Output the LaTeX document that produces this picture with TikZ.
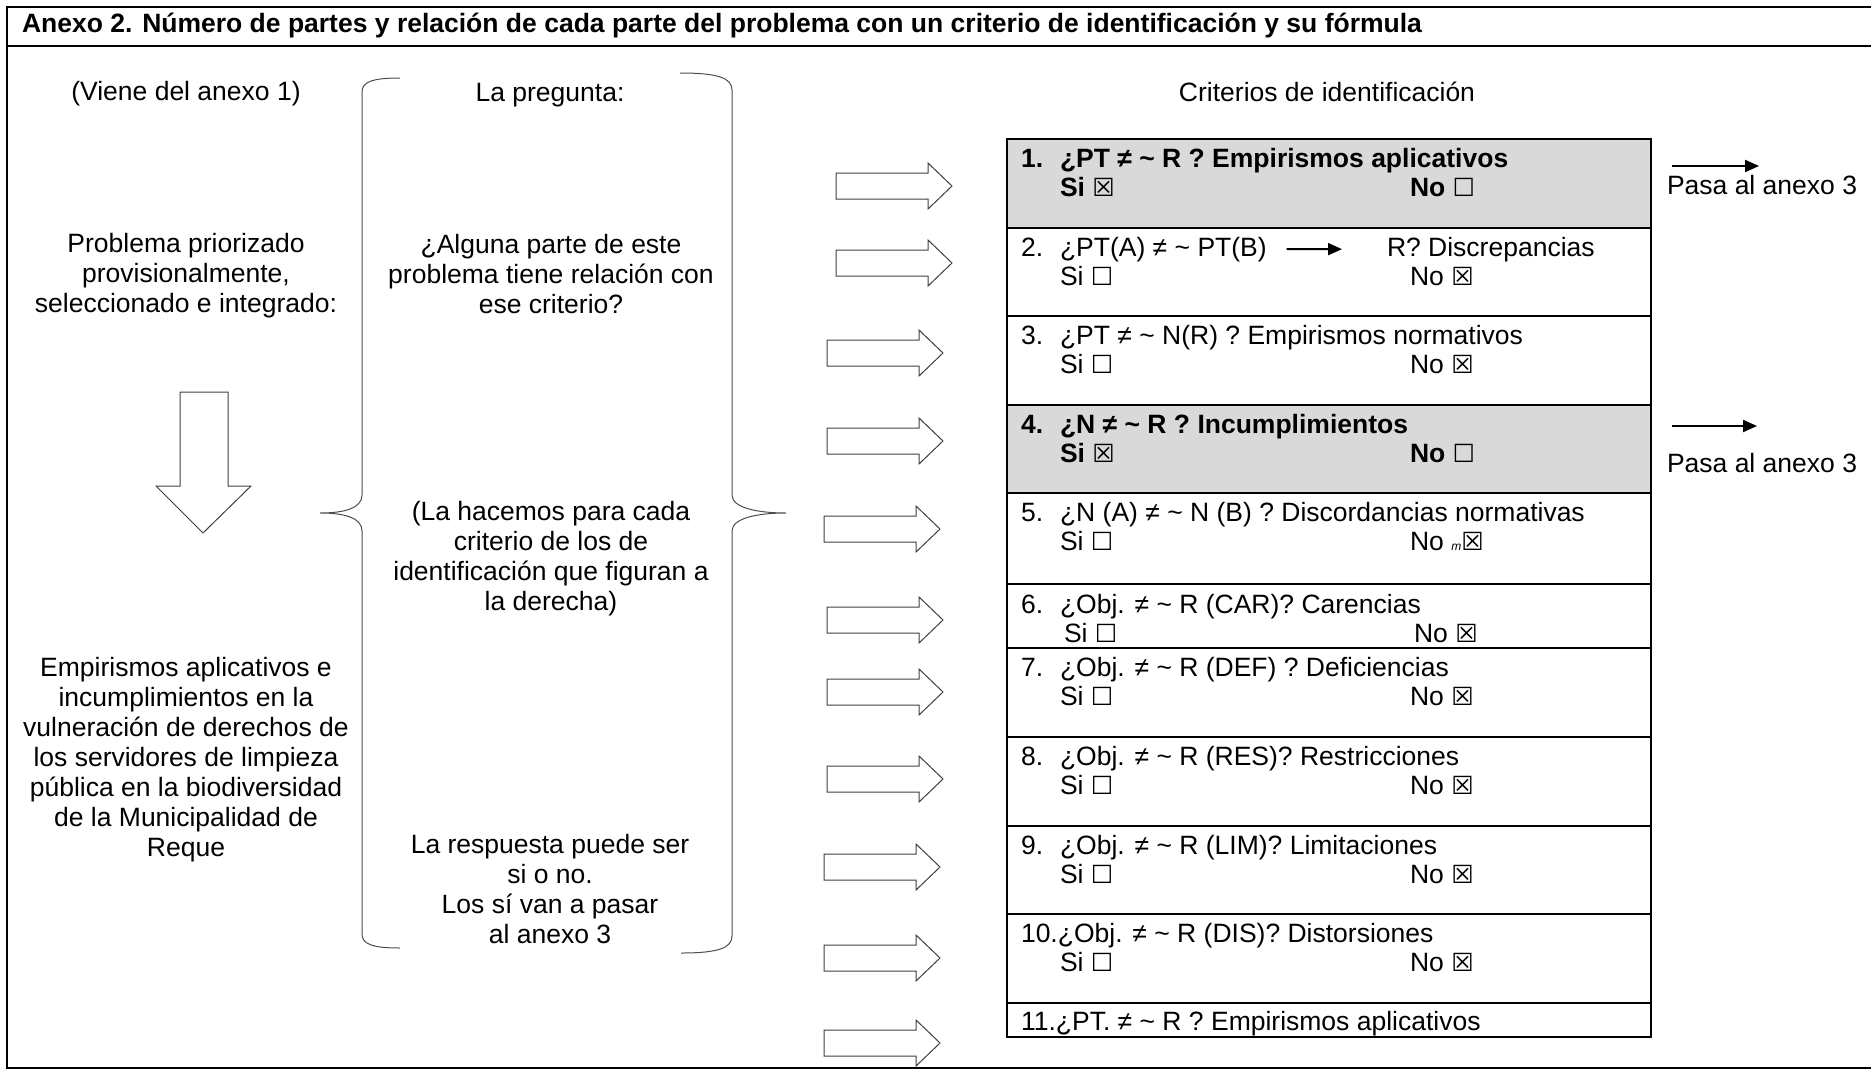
\documentclass[tikz,border=0pt]{standalone}
\usepackage{fontspec}
\setmainfont{Liberation Sans}
\newfontfamily\checkfont{DejaVu Sans}
\usetikzlibrary{positioning,calc,arrows.meta}
\definecolor{rowgray}{RGB}{217,217,217}
\newcommand{\casilla}{{\checkfont\fontsize{12.5}{12.5}\selectfont\char"2610}}
\newcommand{\marcada}{{\checkfont\fontsize{12.5}{12.5}\selectfont\char"2612}}
\tikzstyle{every node}=[inner sep=0pt, outer sep=0pt]
\tikzstyle{txt} = [anchor=base, align=center, font=\fontsize{13.25}{15}\selectfont]
\tikzstyle{ltxt} = [anchor=base west, font=\fontsize{13.25}{15}\selectfont]
\tikzstyle{btxt} = [anchor=base west, font=\fontsize{13.25}{15}\selectfont\bfseries]
\tikzstyle{frame} = [draw, line width=1pt]
\tikzstyle{row} = [draw, line width=1pt, anchor=north west, minimum width=322pt]
\tikzstyle{hollow} = [draw=black!75, line width=0.5pt, fill=white]
\tikzstyle{brace} = [draw=black!70, line width=0.5pt]
\tikzstyle{arr} = [draw, line width=1pt, -{Triangle[length=7pt,width=6pt]}]

\begin{document}
\begin{tikzpicture}[x=0.5pt,y=-0.5pt,line join=miter]
    \useasboundingbox (0,0) rectangle (1871,1070);

    % marco y titulo
    \draw[frame] (1871,7) -- (7,7) -- (7,1068) -- (1871,1068);
    \draw[frame] (7,46) -- (1871,46);
    \node[btxt] (titulo) at (22,33) {Anexo 2. Número de partes y relación de cada parte del problema con un criterio de identificación y su fórmula};

    \node[txt] (viene) at (186,101) {(Viene del anexo 1)};
    \node[txt] (pregunta) at (550,102) {La pregunta:};
    \node[txt] (criterios) at (1327,102) {Criterios de identificación};

    % base = ultima linea
    \node[txt] (problema) at (186,312) {Problema priorizado\\provisionalmente,\\seleccionado e integrado:};
    \node[txt] (empirismos) at (186,856) {Empirismos aplicativos e\\incumplimientos en la\\vulneración de derechos de\\los servidores de limpieza\\pública en la biodiversidad\\de la Municipalidad de\\Reque};

    \node[txt] (alguna) at (551,313) {¿Alguna parte de este\\problema tiene relación con\\ese criterio?};
    \node[txt] (hacemos) at (551,610) {(La hacemos para cada\\criterio de los de\\identificación que figuran a\\la derecha)};
    \node[txt] (respuesta) at (550,943) {La respuesta puede ser\\si o no.\\Los sí van a pasar\\al anexo 3};

    % flecha hacia abajo
    \draw[hollow] (180,392) -- (228,392) -- (228,486) -- (251,486) -- (203,533) -- (156,486) -- (180,486) -- cycle;

    % llaves
    \draw[brace] (400,78) .. controls (372,78) and (362,82) .. (362,92) -- (362,495) .. controls (362,508) and (345,513) .. (320,513) .. controls (345,513) and (362,518) .. (362,531) -- (362,934) .. controls (362,944) and (372,948) .. (400,948);
    \draw[brace] (680,73) .. controls (718,73) and (732,78) .. (732,90) -- (732,495) .. controls (732,508) and (758,513) .. (786,513) .. controls (758,513) and (732,518) .. (732,531) -- (732,936) .. controls (732,948) and (718,953) .. (681,953);

    % criterios
    \node[row, fill=rowgray, minimum height=44.5pt] (c1) at (1007,139) {};
    \node[row, minimum height=44pt, below=0pt of c1] (c2) {};
    \node[row, minimum height=44.5pt, below=0pt of c2] (c3) {};
    \node[row, fill=rowgray, minimum height=44pt, below=0pt of c3] (c4) {};
    \node[row, minimum height=45.5pt, below=0pt of c4] (c5) {};
    \node[row, minimum height=32pt, below=0pt of c5] (c6) {};
    \node[row, minimum height=44.5pt, below=0pt of c6] (c7) {};
    \node[row, minimum height=44.5pt, below=0pt of c7] (c8) {};
    \node[row, minimum height=44pt, below=0pt of c8] (c9) {};
    \node[row, minimum height=44.5pt, below=0pt of c9] (c10) {};
    \node[row, minimum height=17pt, below=0pt of c10] (c11) {};

    \node[btxt] (n1) at ($(c1.north west)+(14,28)$) {1.};
    \node[btxt] (q1) at ($(c1.north west)+(53,28)$) {¿PT ≠ \textasciitilde{} R ? Empirismos aplicativos};
    \node[btxt] (si1) at ($(c1.north west)+(53,57)$) {Si \marcada};
    \node[btxt] (no1) at ($(c1.north west)+(403,57)$) {No \casilla};

    \node[ltxt] (n2) at ($(c2.north west)+(14,28)$) {2.};
    \node[ltxt] (q2) at ($(c2.north west)+(53,28)$) {¿PT(A) ≠ \textasciitilde{} PT(B)};
    \node[ltxt] (r2) at ($(c2.north west)+(380,28)$) {R? Discrepancias};
    \node[ltxt] (si2) at ($(c2.north west)+(53,57)$) {Si \casilla};
    \node[ltxt] (no2) at ($(c2.north west)+(403,57)$) {No \marcada};
    \draw[arr, shorten <=10pt, shorten >=22.5pt] (q2.east) -- (r2.west);

    \node[ltxt] (n3) at ($(c3.north west)+(14,28)$) {3.};
    \node[ltxt] (q3) at ($(c3.north west)+(53,28)$) {¿PT ≠ \textasciitilde{} N(R) ? Empirismos normativos};
    \node[ltxt] (si3) at ($(c3.north west)+(53,57)$) {Si \casilla};
    \node[ltxt] (no3) at ($(c3.north west)+(403,57)$) {No \marcada};

    \node[btxt] (n4) at ($(c4.north west)+(14,28)$) {4.};
    \node[btxt] (q4) at ($(c4.north west)+(53,28)$) {¿N ≠ \textasciitilde{} R ? Incumplimientos};
    \node[btxt] (si4) at ($(c4.north west)+(53,57)$) {Si \marcada};
    \node[btxt] (no4) at ($(c4.north west)+(403,57)$) {No \casilla};

    \node[ltxt] (n5) at ($(c5.north west)+(14,28)$) {5.};
    \node[ltxt] (q5) at ($(c5.north west)+(53,28)$) {¿N (A) ≠ \textasciitilde{} N (B) ? Discordancias normativas};
    \node[ltxt] (si5) at ($(c5.north west)+(53,57)$) {Si \casilla};
    \node[ltxt] (no5) at ($(c5.north west)+(403,57)$) {No {\fontsize{6}{6}\selectfont\itshape m}\marcada};

    \node[ltxt] (n6) at ($(c6.north west)+(14,29)$) {6.};
    \node[ltxt] (q6) at ($(c6.north west)+(53,29)$) {¿Obj. ≠ \textasciitilde{} R (CAR)? Carencias};
    \node[ltxt] (si6) at ($(c6.north west)+(57,58)$) {Si \casilla};
    \node[ltxt] (no6) at ($(c6.north west)+(407,58)$) {No \marcada};

    \node[ltxt] (n7) at ($(c7.north west)+(14,28)$) {7.};
    \node[ltxt] (q7) at ($(c7.north west)+(53,28)$) {¿Obj. ≠ \textasciitilde{} R (DEF) ? Deficiencias};
    \node[ltxt] (si7) at ($(c7.north west)+(53,57)$) {Si \casilla};
    \node[ltxt] (no7) at ($(c7.north west)+(403,57)$) {No \marcada};

    \node[ltxt] (n8) at ($(c8.north west)+(14,28)$) {8.};
    \node[ltxt] (q8) at ($(c8.north west)+(53,28)$) {¿Obj. ≠ \textasciitilde{} R (RES)? Restricciones};
    \node[ltxt] (si8) at ($(c8.north west)+(53,57)$) {Si \casilla};
    \node[ltxt] (no8) at ($(c8.north west)+(403,57)$) {No \marcada};

    \node[ltxt] (n9) at ($(c9.north west)+(14,28)$) {9.};
    \node[ltxt] (q9) at ($(c9.north west)+(53,28)$) {¿Obj. ≠ \textasciitilde{} R (LIM)? Limitaciones};
    \node[ltxt] (si9) at ($(c9.north west)+(53,57)$) {Si \casilla};
    \node[ltxt] (no9) at ($(c9.north west)+(403,57)$) {No \marcada};

    \node[ltxt] (q10) at ($(c10.north west)+(14,28)$) {10.¿Obj. ≠ \textasciitilde{} R (DIS)? Distorsiones};
    \node[ltxt] (si10) at ($(c10.north west)+(53,57)$) {Si \casilla};
    \node[ltxt] (no10) at ($(c10.north west)+(403,57)$) {No \marcada};

    \node[ltxt] (q11) at ($(c11.north west)+(14,27)$) {11.¿PT. ≠ \textasciitilde{} R ? Empirismos aplicativos};

    % flechas de bloque
    \draw[hollow] (836,186) ++(0,-13) -- ++(92,0) -- ++(0,-10) -- ++(24,23) -- ++(-24,23) -- ++(0,-10) -- ++(-92,0) -- cycle;
    \draw[hollow] (836,263) ++(0,-13) -- ++(92,0) -- ++(0,-10) -- ++(24,23) -- ++(-24,23) -- ++(0,-10) -- ++(-92,0) -- cycle;
    \draw[hollow] (827,353) ++(0,-13) -- ++(92,0) -- ++(0,-10) -- ++(24,23) -- ++(-24,23) -- ++(0,-10) -- ++(-92,0) -- cycle;
    \draw[hollow] (827,441) ++(0,-13) -- ++(92,0) -- ++(0,-10) -- ++(24,23) -- ++(-24,23) -- ++(0,-10) -- ++(-92,0) -- cycle;
    \draw[hollow] (824,529) ++(0,-13) -- ++(92,0) -- ++(0,-10) -- ++(24,23) -- ++(-24,23) -- ++(0,-10) -- ++(-92,0) -- cycle;
    \draw[hollow] (827,620) ++(0,-13) -- ++(92,0) -- ++(0,-10) -- ++(24,23) -- ++(-24,23) -- ++(0,-10) -- ++(-92,0) -- cycle;
    \draw[hollow] (827,692) ++(0,-13) -- ++(92,0) -- ++(0,-10) -- ++(24,23) -- ++(-24,23) -- ++(0,-10) -- ++(-92,0) -- cycle;
    \draw[hollow] (827,779) ++(0,-13) -- ++(92,0) -- ++(0,-10) -- ++(24,23) -- ++(-24,23) -- ++(0,-10) -- ++(-92,0) -- cycle;
    \draw[hollow] (824,867) ++(0,-13) -- ++(92,0) -- ++(0,-10) -- ++(24,23) -- ++(-24,23) -- ++(0,-10) -- ++(-92,0) -- cycle;
    \draw[hollow] (824,958) ++(0,-13) -- ++(92,0) -- ++(0,-10) -- ++(24,23) -- ++(-24,23) -- ++(0,-10) -- ++(-92,0) -- cycle;
    \draw[hollow] (824,1043) ++(0,-13) -- ++(92,0) -- ++(0,-10) -- ++(24,23) -- ++(-24,23) -- ++(0,-10) -- ++(-92,0) -- cycle;

    % pasa al anexo 3
    \coordinate (s1) at (1672,166);
    \coordinate (e1) at (1759,166);
    \draw[arr] (s1) -- (e1);
    \node[ltxt] (pasa1) at (1667,194) {Pasa al anexo 3};
    \coordinate (s4) at (1672,426);
    \coordinate (e4) at (1757,426);
    \draw[arr] (s4) -- (e4);
    \node[ltxt] (pasa4) at (1667,472) {Pasa al anexo 3};

\end{tikzpicture}
\end{document}
